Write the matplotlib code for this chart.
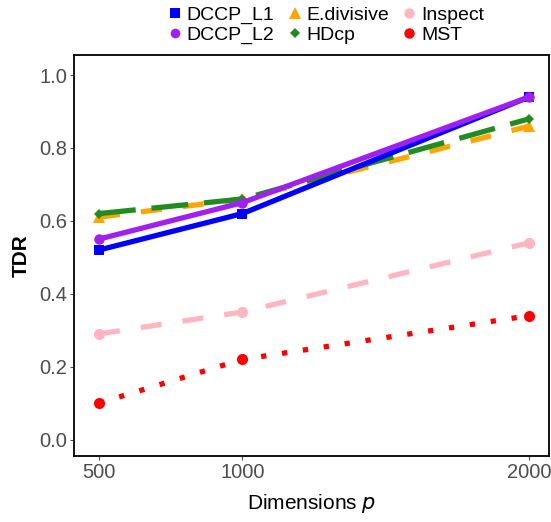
import matplotlib.pyplot as plt
import numpy as np

plt.rcParams['font.family'] = ['Liberation Sans', 'DejaVu Sans']

# Dimensions p
dims = [500, 1000, 2000]

# TDR per method
dccp_l1 = [0.52, 0.62, 0.94]
dccp_l2 = [0.55, 0.65, 0.94]
edivisive = [0.61, 0.66, 0.86]
hdcp = [0.62, 0.66, 0.88]
inspect = [0.29, 0.35, 0.54]
mst = [0.10, 0.22, 0.34]

names = ['DCCP_L1', 'DCCP_L2', 'E.divisive', 'HDcp', 'Inspect', 'MST']
series = [dccp_l1, dccp_l2, edivisive, hdcp, inspect, mst]
colors = ['#0000ff', '#a020f0', '#ffa500', '#228b22', '#ffb6c1', '#ff0000']
markers = ['s', 'o', '^', 'D', 'o', 'o']
msizes = [7.5, 7.5, 9, 5.5, 8, 8]
leg_sizes = [6.5, 7, 8.5, 5, 7.5, 7.5]
# R style dash patterns (in line-width units): dashed 44, longdash 73, dotted 13
styles = ['-', '-', (0, (4, 4)), (0, (7, 3)), (0, (4, 4)), (0, (1, 3))]

fig = plt.figure(figsize=(5.51, 5.22), dpi=100)
ax = fig.add_axes([74/551, 1 - 456/522, (549 - 74)/551, (456 - 55)/522])

# draw back-to-front like the original
order = [4, 5, 2, 3, 0, 1]
for z, i in enumerate(order):
    ax.plot(dims, series[i], color=colors[i], linestyle=styles[i], linewidth=3.8,
            dash_capstyle='butt', zorder=2 + z)
    ax.plot(dims, series[i], color=colors[i], linestyle='none', marker=markers[i],
            markersize=msizes[i], markeredgewidth=0, zorder=2 + z)

ax.set_xlim(413, 2069)
ax.set_ylim(-0.045, 1.055)
ax.set_xticks(dims)
ax.set_yticks([0.0, 0.2, 0.4, 0.6, 0.8, 1.0])
ax.set_yticklabels(['0.0', '0.2', '0.4', '0.6', '0.8', '1.0'])
ax.tick_params(colors='#4d4d4d', labelsize=14.5, length=3, width=0.8, pad=2)
for sp in ax.spines.values():
    sp.set_linewidth(1.3)
    sp.set_color('black')

ax.set_ylabel('TDR', fontsize=15, fontweight='bold', labelpad=6)
ax.set_xlabel('Dimensions $p$', fontsize=15, labelpad=7)

handles = [plt.Line2D([], [], color=colors[i], marker=markers[i], linestyle='none',
                      markersize=leg_sizes[i], markeredgewidth=0) for i in range(6)]
fig.legend(handles, names, loc='upper center', bbox_to_anchor=(0.59, 1.014), ncol=3,
           frameon=False, fontsize=14, handletextpad=0.15, columnspacing=0.6,
           labelspacing=0.12, handlelength=0.9, borderpad=0.2)

fig.savefig('out.png', dpi=100)
